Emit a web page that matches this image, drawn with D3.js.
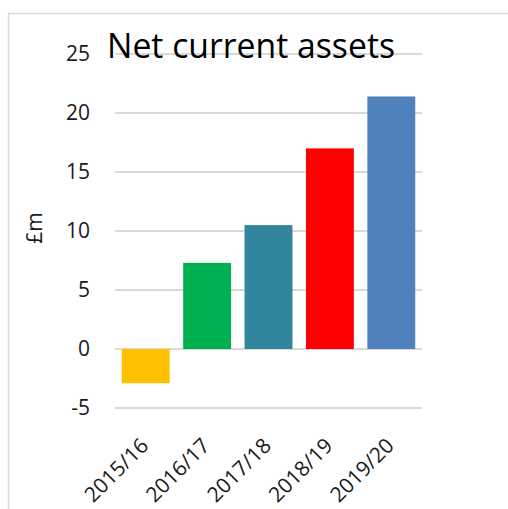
<!DOCTYPE html>
<html lang="en">
<head>
<meta charset="UTF-8">
<title>Net current assets</title>
<script src="https://d3js.org/d3.v7.min.js"></script>
<style>
    body {
        margin: 0;
        padding: 0;
        background: #fff;
        font-family: 'Open Sans', 'Noto Sans', sans-serif;
    }
</style>
</head>
<body>
<div id="chart"></div>
<script>
    var years = ["2015/16", "2016/17", "2017/18", "2018/19", "2019/20"];
    var values = [-2.9, 7.3, 10.5, 17.0, 21.4];
    var colors = ["#ffc000", "#00b050", "#31859c", "#ff0000", "#4f81bd"];
    var yTicks = [-5, 0, 5, 10, 15, 20, 25];

    var width = 508, height = 509;

    var svg = d3.select("#chart").append("svg")
        .attr("width", width)
        .attr("height", height);

    // chart area border (only left and top visible)
    svg.append("rect")
        .attr("x", 8.5)
        .attr("y", 13.5)
        .attr("width", 520)
        .attr("height", 520)
        .attr("fill", "none")
        .attr("stroke", "#d9d9d9")
        .attr("stroke-width", 1.5);

    var xScale = d3.scaleBand()
        .domain(years)
        .range([115, 422])
        .paddingInner(0.22)
        .paddingOuter(0.11);

    var yScale = d3.scaleLinear()
        .domain([-5, 25])
        .range([408, 54]);

    // gridlines
    svg.selectAll(".grid")
        .data(yTicks)
        .enter()
        .append("line")
        .attr("x1", 115)
        .attr("x2", 422)
        .attr("y1", d => yScale(d))
        .attr("y2", d => yScale(d))
        .attr("stroke", "#d9d9d9")
        .attr("stroke-width", 2);

    // tick labels
    svg.selectAll(".ytick")
        .data(yTicks)
        .enter()
        .append("text")
        .attr("x", 90)
        .attr("y", d => yScale(d))
        .attr("dy", "0.35em")
        .attr("text-anchor", "end")
        .style("font-size", "21px")
        .style("fill", "#1a1a1a")
        .text(d => d);

    // bars
    svg.selectAll(".bar")
        .data(values)
        .enter()
        .append("rect")
        .attr("x", (d, i) => xScale(years[i]))
        .attr("width", xScale.bandwidth())
        .attr("y", d => yScale(Math.max(0, d)))
        .attr("height", d => Math.abs(yScale(d) - yScale(0)))
        .attr("fill", (d, i) => colors[i]);

    // x labels rotated
    svg.selectAll(".xlab")
        .data(years)
        .enter()
        .append("text")
        .attr("transform", d => "translate(" + (xScale(d) + xScale.bandwidth() / 2 + 4) + ",447) rotate(-45)")
        .attr("text-anchor", "end")
        .style("font-size", "21px")
        .style("fill", "#1a1a1a")
        .text(d => d);

    // axis title
    svg.append("text")
        .attr("transform", "translate(42,228) rotate(-90)")
        .attr("text-anchor", "middle")
        .style("font-size", "21px")
        .style("fill", "#1a1a1a")
        .text("£m");

    // chart title
    svg.append("text")
        .attr("x", 107)
        .attr("y", 58)
        .attr("textLength", 288)
        .attr("lengthAdjust", "spacingAndGlyphs")
        .style("font-size", "34px")
        .style("fill", "#000")
        .text("Net current assets");
</script>
</body>
</html>
